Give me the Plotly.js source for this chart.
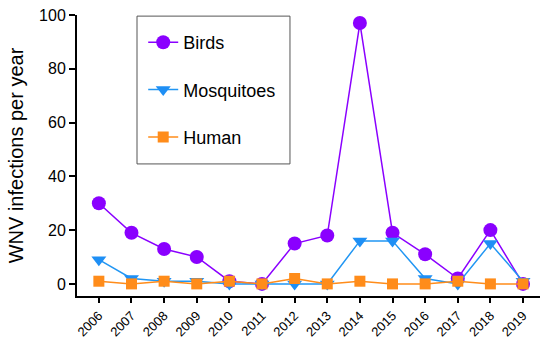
<!DOCTYPE html>
<html><head><meta charset="utf-8">
<script src="https://cdn.plot.ly/plotly-3.0.1.min.js"></script>
<style>html,body{margin:0;padding:0;background:#fff}#chart{width:544px;height:338px}</style>
</head><body><div id="chart"></div>
<script>
const years = [2006,2007,2008,2009,2010,2011,2012,2013,2014,2015,2016,2017,2018,2019];
const tickLabels = years.map(String);
const birds = [30,19,13,10,1,0,15,18,97,19,11,2,20,0];
const mosquitoes = [9,2,1,1,0,0,0,0,16,16,2,0,15,1];
const human = [1,0,1,0,1,0,2,0,1,0,0,1,0,0];

const traces = [
  {x: years, y: birds, name: 'Birds', mode: 'lines+markers', legendgroup: 'a',
   line: {color: '#8a00ff', width: 1.5}, marker: {symbol: 'circle', size: 14, color: '#8a00ff'}},
  {x: years, y: mosquitoes, name: 'Mosquitoes', mode: 'lines+markers', legendgroup: 'b',
   line: {color: '#2196f3', width: 1.5}, marker: {symbol: 'triangle-down', size: 13, color: '#1e8ff5'}},
  {x: years, y: human, name: 'Human', mode: 'lines+markers', legendgroup: 'c',
   line: {color: '#ff8c1a', width: 1.5}, marker: {symbol: 'square', size: 11, color: '#ff8c1a'}}
];

const layout = {
  width: 544, height: 338,
  margin: {l: 77, r: 4, t: 15, b: 42},
  paper_bgcolor: '#fff', plot_bgcolor: '#fff',
  font: {family: 'Liberation Sans, Arial, sans-serif', color: '#000'},
  showlegend: true,
  legend: {x: 0.143, y: 0.968, xanchor: 'left', yanchor: 'top', bgcolor: 'rgba(0,0,0,0)',
           borderwidth: 0, font: {size: 18}, tracegroupgap: 21, traceorder: 'grouped'},
  shapes: [{type: 'rect', xref: 'paper', yref: 'paper', x0: 0.1296, x1: 0.46, y0: 0.47, y1: 0.996,
            line: {color: '#555', width: 1}}],
  xaxis: {range: [2005.33, 2019.52], tickvals: years, ticktext: tickLabels, tickangle: -45,
          showgrid: false, zeroline: false, showline: true, linecolor: '#000', linewidth: 2,
          ticks: 'outside', ticklen: 5, tickwidth: 2, tickcolor: '#000', tickfont: {size: 13}},
  yaxis: {range: [-4.5, 100], tickvals: [0,20,40,60,80,100], showgrid: false, zeroline: false,
          showline: true, linecolor: '#000', linewidth: 2, ticks: 'outside', ticklen: 6, tickwidth: 2,
          tickcolor: '#000', tickfont: {size: 16},
          title: {text: 'WNV infections per year', font: {size: 20}, standoff: 10}}
};
Plotly.newPlot('chart', traces, layout, {displayModeBar: false, staticPlot: true});
</script></body></html>
